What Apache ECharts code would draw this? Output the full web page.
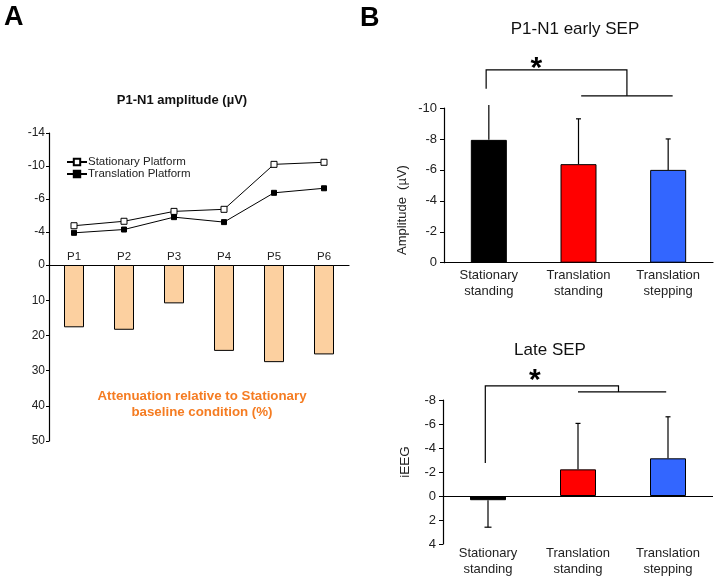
<!DOCTYPE html>
<html>
<head>
<meta charset="utf-8">
<script src="https://cdn.jsdelivr.net/npm/echarts@6/dist/echarts.min.js"></script>
<style>
html,body{margin:0;padding:0;background:#fff;}
#chart{width:718px;height:579px;}
</style>
</head>
<body>
<div id="chart"></div>
<script>
// ---------- DATA ----------
// Panel A
var aCategories = ['P1', 'P2', 'P3', 'P4', 'P5', 'P6'];
var aStationary = [-4.76, -5.3, -6.5, -6.75, -12.2, -12.45];
var aTranslation = [-3.9, -4.3, -5.8, -5.2, -8.75, -9.3];
var aAttenuation = [17.7, 18.4, 10.9, 24.4, 27.6, 25.4];
var aTopTickValues = [0, -4, -8, -12, -16];
var aTopTickLabels = ['0', '-4', '-6', '-10', '-14'];
var aBottomTickLabels = ['', '10', '20', '30', '40', '50'];
// Panel B
var bCategories = ['Stationary\nstanding', 'Translation\nstanding', 'Translation\nstepping'];
var bEarlyMeans = [-7.94, -6.37, -6.0];
var bEarlySD = [2.26, 2.93, 2.0];
var bLateMeans = [0.35, -2.22, -3.14];
var bLateSD = [2.25, 3.83, 3.46];

// ---------- STYLE / ANNOTATIONS ----------
var barColors = ['#000000', '#ff0000', '#3366ff'];
var earlyCap = [0, 5, 5];
var lateCap = [7, 5, 5];
var earlyBracket = { left: -0.03, right: 1.54, top: -12.47, leftEnd: -11.24, rightEnd: -10.79, subFrom: 1.03, subTo: 2.05, starX: 0.53, starY: -12.94 };
var lateBracket = { left: -0.03, right: 1.45, top: -9.17, leftEnd: -2.75, rightEnd: -8.67, subFrom: 1.0, subTo: 1.98, starX: 0.52, starY: -10.08 };

var FONT = 'Liberation Sans, Arial, sans-serif';
var chart = echarts.init(document.getElementById('chart'), null, { renderer: 'canvas' });

function errorBarItem(caps) {
  return function (params, api) {
    var x = api.value(0), m = api.value(1), e = api.value(2);
    var p0 = api.coord([x, m]);
    var p1 = api.coord([x, e]);
    var cw = caps[params.dataIndex];
    var children = [{
      type: 'line', shape: { x1: p0[0], y1: p0[1], x2: p1[0], y2: p1[1] },
      style: { stroke: '#000', lineWidth: 1.2 }
    }];
    if (cw > 0) {
      children.push({
        type: 'line', shape: { x1: p1[0] - cw / 2, y1: p1[1], x2: p1[0] + cw / 2, y2: p1[1] },
        style: { stroke: '#000', lineWidth: 1.2 }
      });
    }
    return { type: 'group', children: children };
  };
}

function bracketItem(b) {
  return function (params, api) {
    if (params.dataIndex !== 0) return;
    var c = function (x, y) { return api.coord([x, y]); };
    var pts = [c(b.left, b.leftEnd), c(b.left, b.top), c(b.right, b.top), c(b.right, b.rightEnd)];
    var s1 = c(b.subFrom, b.rightEnd), s2 = c(b.subTo, b.rightEnd);
    var st = c(b.starX, b.starY);
    return {
      type: 'group',
      children: [
        { type: 'polyline', shape: { points: pts }, style: { stroke: '#000', lineWidth: 1.2, fill: null } },
        { type: 'line', shape: { x1: s1[0], y1: s1[1], x2: s2[0], y2: s2[1] }, style: { stroke: '#000', lineWidth: 1.2 } },
        { type: 'text', x: st[0], y: st[1] + 6, style: { text: '*', font: 'bold 30px ' + FONT, fill: '#000', align: 'center', verticalAlign: 'middle' } }
      ]
    };
  };
}

function errData(means, sds) {
  return means.map(function (m, i) { return [i, m, m + (m >= 0 ? 1 : -1) * sds[i]]; });
}

var bYAxisCommon = {
  type: 'value', inverse: true, interval: 2,
  splitLine: { show: false },
  axisLine: { show: true, onZero: false, lineStyle: { color: '#000', width: 1.2 } },
  axisTick: { show: true, length: 4, lineStyle: { color: '#000' } },
  axisLabel: { color: '#222', fontSize: 13, margin: 7 }
};

var option = {
  animation: false,
  backgroundColor: '#fff',
  textStyle: { fontFamily: FONT },
  legend: {
    data: ['Stationary Platform', 'Translation Platform'],
    orient: 'vertical', left: 66, top: 156, padding: 0,
    itemWidth: 20, itemHeight: 8, itemGap: 0,
    textStyle: { fontSize: 11.5, color: '#222', lineHeight: 11, padding: [0, 0, 0, -4] }
  },
  grid: [
    { left: 49, top: 133, width: 300, height: 132 },
    { left: 49, top: 265, width: 300, height: 176 },
    { left: 444, top: 108, width: 269, height: 154.7 },
    { left: 443, top: 400, width: 270, height: 144 }
  ],
  xAxis: [
    { gridIndex: 0, type: 'category', data: aCategories, show: false },
    { gridIndex: 1, type: 'category', data: aCategories, position: 'top',
      axisLine: { lineStyle: { color: '#000', width: 1.2 } }, axisTick: { show: false },
      axisLabel: { color: '#222', fontSize: 11.5, margin: 2 } },
    { gridIndex: 2, type: 'category', data: bCategories,
      axisLine: { onZero: false, lineStyle: { color: '#000', width: 1.2 } }, axisTick: { show: false },
      axisLabel: { color: '#222', fontSize: 13, lineHeight: 16, margin: 5 } },
    { gridIndex: 2, type: 'value', min: -0.5, max: 2.5, show: false },
    { gridIndex: 3, type: 'category', data: bCategories,
      axisLine: { show: false, onZero: false }, axisTick: { show: false },
      axisLabel: { color: '#222', fontSize: 13, lineHeight: 16, margin: 1 } },
    { gridIndex: 3, type: 'value', min: -0.5, max: 2.5, show: false }
  ],
  yAxis: [
    { gridIndex: 0, type: 'value', min: -16, max: 0, interval: 4, inverse: true,
      splitLine: { show: false },
      axisLine: { show: true, onZero: false, lineStyle: { color: '#000', width: 1.2 } },
      axisTick: { show: true, length: 3, lineStyle: { color: '#000' } },
      axisLabel: { color: '#222', fontSize: 12, margin: 4,
        formatter: function (v) { var i = aTopTickValues.indexOf(v); return i >= 0 ? aTopTickLabels[i] : ''; } } },
    { gridIndex: 1, type: 'value', min: 0, max: 50, interval: 10, inverse: true,
      splitLine: { show: false },
      axisLine: { show: true, onZero: false, lineStyle: { color: '#000', width: 1.2 } },
      axisTick: { show: true, length: 3, lineStyle: { color: '#000' } },
      axisLabel: { color: '#222', fontSize: 12, margin: 4,
        formatter: function (v) { return aBottomTickLabels[v / 10]; } } },
    Object.assign({ gridIndex: 2, min: -10, max: 0 }, bYAxisCommon),
    Object.assign({ gridIndex: 3, min: -8, max: 4 }, bYAxisCommon)
  ],
  graphic: [
    { type: 'text', left: 4, top: 4, style: { text: 'A', font: 'bold 27px ' + FONT, fill: '#000' } },
    { type: 'text', left: 360, top: 5, style: { text: 'B', font: 'bold 27px ' + FONT, fill: '#000' } },
    { type: 'text', x: 182, y: 100, style: { text: 'P1-N1 amplitude (µV)', font: 'bold 13px ' + FONT, fill: '#111', align: 'center', verticalAlign: 'middle' } },
    { type: 'text', x: 202, y: 396, style: { text: 'Attenuation relative to Stationary', font: 'bold 13.3px ' + FONT, fill: '#f57c22', align: 'center', verticalAlign: 'middle' } },
    { type: 'text', x: 202, y: 412, style: { text: 'baseline condition (%)', font: 'bold 13.3px ' + FONT, fill: '#f57c22', align: 'center', verticalAlign: 'middle' } },
    { type: 'text', x: 575, y: 29, style: { text: 'P1-N1 early SEP', font: '17px ' + FONT, fill: '#111', align: 'center', verticalAlign: 'middle' } },
    { type: 'text', x: 550, y: 350, style: { text: 'Late SEP', font: '17px ' + FONT, fill: '#111', align: 'center', verticalAlign: 'middle' } },
    { type: 'text', x: 402, y: 210, rotation: Math.PI / 2, style: { text: 'Amplitude  (µV)', font: '13px ' + FONT, fill: '#222', align: 'center', verticalAlign: 'middle' } },
    { type: 'text', x: 405, y: 462, rotation: Math.PI / 2, style: { text: 'iEEG', font: '13.5px ' + FONT, fill: '#222', align: 'center', verticalAlign: 'middle' } }
  ],
  series: [
    { name: 'Stationary Platform', type: 'line', xAxisIndex: 0, yAxisIndex: 0, data: aStationary,
      symbol: 'rect', symbolSize: 6, lineStyle: { color: '#000', width: 1 },
      itemStyle: { color: '#fff', borderColor: '#000', borderWidth: 1 } },
    { name: 'Translation Platform', type: 'line', xAxisIndex: 0, yAxisIndex: 0, data: aTranslation,
      symbol: 'rect', symbolSize: 5, lineStyle: { color: '#000', width: 1 },
      itemStyle: { color: '#000', borderColor: '#000', borderWidth: 1 } },
    { name: 'Attenuation', type: 'bar', xAxisIndex: 1, yAxisIndex: 1, data: aAttenuation, barWidth: 20,
      itemStyle: { color: '#fcd0a0', borderColor: '#000', borderWidth: 1 } },
    { name: 'early', type: 'bar', xAxisIndex: 2, yAxisIndex: 2, barWidth: 36,
      data: bEarlyMeans.map(function (v, i) { return { value: v, itemStyle: { color: barColors[i] } }; }),
      itemStyle: { borderColor: '#000', borderWidth: 1 } },
    { name: 'earlyErr', type: 'custom', xAxisIndex: 3, yAxisIndex: 2, data: errData(bEarlyMeans, bEarlySD),
      encode: { x: 0, y: [1, 2] }, renderItem: errorBarItem(earlyCap), clip: false, z: 3 },
    { name: 'earlyBracket', type: 'custom', xAxisIndex: 3, yAxisIndex: 2, data: [[0, 0]],
      renderItem: bracketItem(earlyBracket), clip: false, z: 3 },
    { name: 'late', type: 'bar', xAxisIndex: 4, yAxisIndex: 3, barWidth: 36,
      data: bLateMeans.map(function (v, i) { return { value: v, itemStyle: { color: barColors[i] } }; }),
      itemStyle: { borderColor: '#000', borderWidth: 1 },
      markLine: { silent: true, symbol: 'none', label: { show: false },
        lineStyle: { color: '#000', width: 1.2, type: 'solid' }, data: [{ yAxis: 0 }] } },
    { name: 'lateErr', type: 'custom', xAxisIndex: 5, yAxisIndex: 3, data: errData(bLateMeans, bLateSD),
      encode: { x: 0, y: [1, 2] }, renderItem: errorBarItem(lateCap), clip: false, z: 3 },
    { name: 'lateBracket', type: 'custom', xAxisIndex: 5, yAxisIndex: 3, data: [[0, 0]],
      renderItem: bracketItem(lateBracket), clip: false, z: 3 }
  ]
};
chart.setOption(option);
</script>
</body>
</html>
